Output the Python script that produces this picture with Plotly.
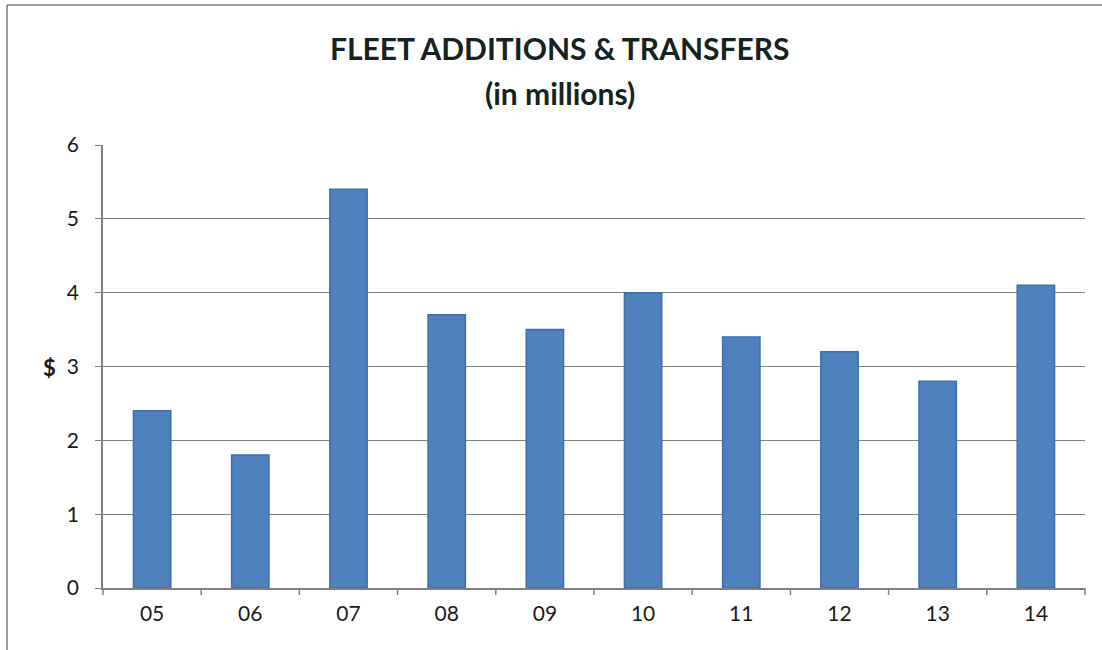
import plotly.graph_objects as go

# Fleet additions & transfers by year (millions of dollars)
years = ["05", "06", "07", "08", "09", "10", "11", "12", "13", "14"]
amounts = [2.4, 1.8, 5.4, 3.7, 3.5, 4.0, 3.4, 3.2, 2.8, 4.1]
y_ticks = [0, 1, 2, 3, 4, 5, 6]

W, H = 1102, 650
L, R, T, B = 103, 17, 145, 62
pw, ph = W - L - R, H - T - B

def px_x(p):
    return (p - L) / pw

def px_y(p):
    return (H - B - p) / ph

font_family = "Lato, 'Open Sans', sans-serif"

fig = go.Figure(
    go.Bar(
        x=years,
        y=amounts,
        width=0.38,
        marker=dict(color="#4F81BD", line=dict(color="#3C6EB4", width=1.5)),
    )
)

fig.update_layout(
    width=W,
    height=H,
    margin=dict(l=L, r=R, t=T, b=B),
    paper_bgcolor="white",
    plot_bgcolor="white",
    showlegend=False,
    font=dict(family=font_family, size=21, color="#1a1a1a"),
    xaxis=dict(
        type="category",
        showgrid=False,
        showline=True,
        linecolor="#808080",
        linewidth=1.5,
        ticks="",
        tickfont=dict(size=21),
        ticklabelstandoff=6,
    ),
    yaxis=dict(
        range=[0, 6],
        tickvals=y_ticks,
        showgrid=True,
        gridcolor="#808080",
        gridwidth=1.2,
        showline=True,
        linecolor="#808080",
        linewidth=1.5,
        ticks="outside",
        ticklen=6,
        tickcolor="#808080",
        tickfont=dict(size=21),
        zeroline=False,
        ticklabelstandoff=12,
    ),
)

# Category boundary ticks below the x axis
shapes = []
for i in range(len(years) + 1):
    xp = i / len(years)
    shapes.append(dict(type="line", xref="paper", yref="paper",
                       x0=xp, x1=xp, y0=0, y1=-7 / ph,
                       line=dict(color="#808080", width=1.5)))

# Chart frame: left and top edges
shapes.append(dict(type="line", xref="paper", yref="paper",
                   x0=px_x(7), x1=px_x(7), y0=px_y(5), y1=px_y(660),
                   line=dict(color="#7a7a7a", width=1.5)))
shapes.append(dict(type="line", xref="paper", yref="paper",
                   x0=px_x(7), x1=px_x(1110), y0=px_y(5), y1=px_y(5),
                   line=dict(color="#7a7a7a", width=1.5)))
fig.update_layout(shapes=shapes)

title_font = dict(size=30, color="#14231f", family=font_family)
fig.add_annotation(
    text="<b>FLEET ADDITIONS &amp; TRANSFERS</b>",
    xref="paper", yref="paper", x=px_x(560), y=px_y(48),
    xanchor="center", yanchor="middle",
    showarrow=False, font=title_font,
)
fig.add_annotation(
    text="<b>(in millions)</b>",
    xref="paper", yref="paper", x=px_x(560), y=px_y(93),
    xanchor="center", yanchor="middle",
    showarrow=False, font=title_font,
)
fig.add_annotation(
    text="<b>$</b>",
    xref="paper", yref="paper", x=px_x(49), y=px_y(367),
    xanchor="center", yanchor="middle",
    showarrow=False, font=dict(size=22, color="#1a1a1a", family=font_family),
)

fig.write_html("out.html")
